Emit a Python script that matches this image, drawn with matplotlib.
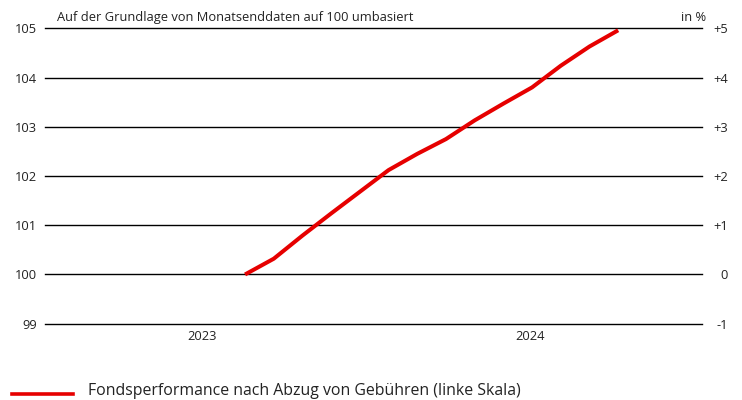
import numpy as np
import matplotlib
matplotlib.use("Agg")
import matplotlib.pyplot as plt
from matplotlib.lines import Line2D

# data - month-end values, rebased to 100
months = ["2023-08", "2023-09", "2023-10", "2023-11", "2023-12", "2024-01", "2024-02",
          "2024-03", "2024-04", "2024-05", "2024-06", "2024-07", "2024-08", "2024-09"]
fund = [100.00, 100.32, 100.79, 101.24, 101.68, 102.12, 102.45,
        102.75, 103.13, 103.47, 103.80, 104.24, 104.63, 104.96]
left_ticks = [99, 100, 101, 102, 103, 104, 105]
right_ticks = [-1, 0, 1, 2, 3, 4, 5]
year_labels = ["2023", "2024"]
year_pos = [-1.50, 9.93]

red = "#e60000"
plt.rcParams["font.family"] = ["Open Sans", "DejaVu Sans"]

W, H = 742, 400
fig = plt.figure(figsize=(W / 100, H / 100), dpi=100)
ax = fig.add_axes([45 / W, 1 - 323.7 / H, (702 - 45) / W, (323.7 - 28.3) / H])

x = np.arange(len(months))
ax.set_xlim(-6.97, 15.92)
ax.set_ylim(99, 105)

# horizontal grid lines
for v in left_ticks:
    ax.axhline(v, color="black", lw=1.0, zorder=1, clip_on=False)

ax.plot(x, fund, color=red, lw=2.9, zorder=3, solid_capstyle="butt", clip_on=False,
        label="Fondsperformance nach Abzug von Gebühren (linke Skala)")

for s in ax.spines.values():
    s.set_visible(False)

ax.set_yticks(left_ticks)
ax.set_yticklabels([str(v) for v in left_ticks])
ax.tick_params(axis="y", length=0, pad=5.5, labelsize=9.3, colors="#222222")
ax.set_xticks(year_pos)
ax.set_xticklabels(year_labels)
ax.tick_params(axis="x", length=0, pad=4.5, labelsize=9.3, colors="#222222")

ax2 = ax.twinx()
ax2.set_ylim(-1, 5)
for s in ax2.spines.values():
    s.set_visible(False)
ax2.set_yticks(right_ticks)
ax2.set_yticklabels(["+%d" % v if v > 0 else str(v) for v in right_ticks])
ax2.tick_params(axis="y", length=0, pad=18.7, labelsize=9.3, colors="#222222")
for lbl in ax2.get_yticklabels():
    lbl.set_horizontalalignment("right")

# subtitle and unit
fig.text(57 / W, 1 - 21 / H, "Auf der Grundlage von Monatsenddaten auf 100 umbasiert",
         fontsize=9.3, color="#222222", va="baseline", ha="left")
fig.text(706 / W, 1 - 21 / H, "in %", fontsize=9.3, color="#222222",
         va="baseline", ha="right")

# legend
fig.add_artist(Line2D([12 / W, 72.7 / W], [1 - 393.5 / H] * 2, color=red, lw=2.6,
                      transform=fig.transFigure))
fig.text(88 / W, 1 - 395 / H, "Fondsperformance nach Abzug von Gebühren (linke Skala)",
         fontsize=11.4, color="#222222", va="baseline", ha="left")

fig.savefig("out.png", dpi=100)
